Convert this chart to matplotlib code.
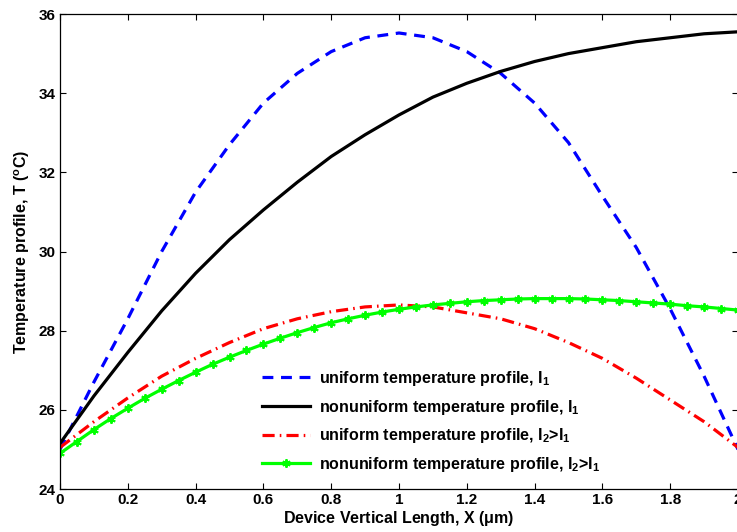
import numpy as np
import matplotlib
matplotlib.use("Agg")
import matplotlib.pyplot as plt

plt.rcParams['font.family'] = ['Liberation Sans', 'DejaVu Sans']
plt.rcParams['font.weight'] = 'bold'
plt.rcParams['mathtext.fontset'] = 'custom'
plt.rcParams['mathtext.rm'] = 'Liberation Sans:bold'
plt.rcParams['mathtext.it'] = 'Liberation Sans:bold'
plt.rcParams['mathtext.bf'] = 'Liberation Sans:bold'

# Data (x in micrometres, T in deg C)
x_coarse = [0.0, 0.1, 0.2, 0.3, 0.4, 0.5, 0.6, 0.7, 0.8, 0.9, 1.0,
            1.1, 1.2, 1.3, 1.4, 1.5, 1.6, 1.7, 1.8, 1.9, 2.0]
uniform_l1 = [25.0, 26.7, 28.3, 30.0, 31.5, 32.7, 33.75, 34.5, 35.05, 35.4, 35.52,
              35.4, 35.05, 34.5, 33.75, 32.75, 31.4, 30.1, 28.55, 26.85, 25.0]
nonuniform_l1 = [25.15, 26.35, 27.45, 28.5, 29.45, 30.3, 31.05, 31.75, 32.4, 32.95, 33.45,
                 33.9, 34.25, 34.55, 34.8, 35.0, 35.15, 35.3, 35.4, 35.5, 35.55]
uniform_l2 = [25.05, 25.7, 26.3, 26.85, 27.3, 27.7, 28.05, 28.3, 28.48, 28.6, 28.65,
              28.6, 28.45, 28.3, 28.05, 27.7, 27.3, 26.8, 26.25, 25.7, 25.05]
x_fine = [0.0, 0.05, 0.1, 0.15, 0.2, 0.25, 0.3, 0.35, 0.4, 0.45, 0.5,
          0.55, 0.6, 0.65, 0.7, 0.75, 0.8, 0.85, 0.9, 0.95, 1.0,
          1.05, 1.1, 1.15, 1.2, 1.25, 1.3, 1.35, 1.4, 1.45, 1.5,
          1.55, 1.6, 1.65, 1.7, 1.75, 1.8, 1.85, 1.9, 1.95, 2.0]
nonuniform_l2 = [24.90, 25.20, 25.50, 25.78, 26.04, 26.29, 26.52, 26.74, 26.95, 27.15, 27.33,
                 27.50, 27.66, 27.81, 27.95, 28.08, 28.20, 28.30, 28.39, 28.47, 28.54,
                 28.60, 28.65, 28.69, 28.73, 28.76, 28.78, 28.80, 28.81, 28.81, 28.81,
                 28.80, 28.78, 28.76, 28.73, 28.70, 28.67, 28.63, 28.60, 28.56, 28.52]

labels = [r"uniform temperature profile, I$_1$",
          r"nonuniform temperature profile, I$_1$",
          r"uniform temperature profile, I$_2$>I$_1$",
          r"nonuniform temperature profile, I$_2$>I$_1$"]

xticks = [0, 0.2, 0.4, 0.6, 0.8, 1, 1.2, 1.4, 1.6, 1.8, 2]
xticklabels = ["0", "0.2", "0.4", "0.6", "0.8", "1", "1.2", "1.4", "1.6", "1.8", "2"]
yticks = [24, 26, 28, 30, 32, 34, 36]

fig = plt.figure(figsize=(7.37, 5.32), dpi=100)
ax = fig.add_axes([60/737, 1 - 489/532, 678/737, 475/532])

lw = 2.3
ax.plot(x_coarse, uniform_l1, color=(0, 0, 1), lw=lw, dashes=(3.4, 2.4), label=labels[0])
ax.plot(x_coarse, nonuniform_l1, color='black', lw=lw, label=labels[1])
ax.plot(x_coarse, uniform_l2, color=(1, 0, 0), lw=lw, dashes=(3.8, 1.6, 0.5, 1.6), label=labels[2])
ax.plot(x_fine, nonuniform_l2, color=(0, 1, 0), lw=lw, marker=(6, 2, 0), markersize=6,
        markeredgewidth=1.4, label=labels[3])

ax.set_xlim(0, 2)
ax.set_ylim(24, 36)
ax.set_xticks(xticks)
ax.set_xticklabels(xticklabels)
ax.set_yticks(yticks)
ax.tick_params(direction='in', top=True, right=True, length=4, width=0.8,
               labelsize=11, pad=3)
for s in ax.spines.values():
    s.set_linewidth(0.9)

ax.set_xlabel(r"Device Vertical Length, X ($\mu$m)", fontsize=11.5, fontweight='bold', labelpad=1)
ax.set_ylabel(r"Temperature profile, T ($^{\mathrm{o}}$C)", fontsize=11.5, fontweight='bold', labelpad=5)

leg = ax.legend(loc='upper left', bbox_to_anchor=((262-60)/678, (489-369)/475),
                frameon=False, fontsize=11.5, handlelength=3.0, handletextpad=0.55,
                labelspacing=0.6, borderpad=0, borderaxespad=0)

fig.savefig("out.png", dpi=100)
